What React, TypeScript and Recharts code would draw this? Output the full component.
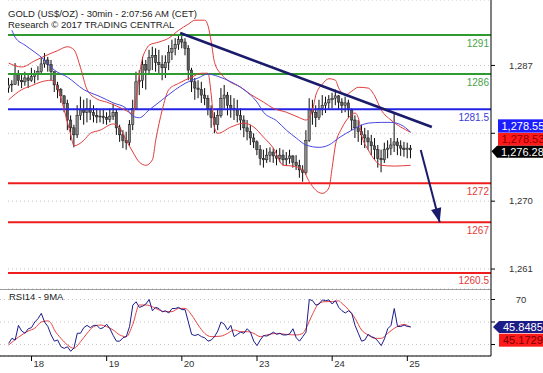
import React from "react";
import {
  ComposedChart,
  Bar,
  Line,
  XAxis,
  YAxis,
  CartesianGrid,
  ReferenceLine,
  ReferenceDot,
} from "recharts";

const FONT = "'Liberation Sans', Arial, sans-serif";

// hourly candles (index 0..123), price in US$/oz
const openPrices = [
  1284.2, 1284.6, 1284.7, 1285.9, 1285.2, 1285.0, 1285.5, 1285.2, 1285.7, 1286.0,
  1286.3, 1287.3, 1287.8, 1287.2, 1286.3, 1284.6, 1284.0, 1283.2, 1282.2, 1280.1,
  1279.1, 1278.2, 1280.7, 1281.4, 1281.1, 1281.6, 1281.1, 1280.7, 1280.5, 1280.6,
  1280.4, 1280.2, 1280.6, 1281.1, 1279.1, 1278.2, 1277.5, 1277.2, 1279.5, 1281.6,
  1285.0, 1285.2, 1287.2, 1286.5, 1288.1, 1288.4, 1287.5, 1287.2, 1286.8, 1287.5,
  1288.8, 1289.3, 1289.8, 1290.4, 1290.1, 1289.3, 1286.5, 1285.0, 1284.2, 1284.0,
  1283.3, 1282.9, 1281.6, 1280.4, 1279.5, 1280.7, 1282.9, 1283.3, 1282.0, 1281.6,
  1281.4, 1280.7, 1280.1, 1279.1, 1278.6, 1277.8, 1277.3, 1276.3, 1275.2, 1275.0,
  1275.6, 1276.0, 1275.5, 1275.2, 1275.6, 1275.0, 1275.2, 1275.5, 1274.7, 1274.3,
  1273.7, 1273.4, 1277.5, 1281.4, 1281.1, 1280.4, 1281.6, 1282.0, 1282.3, 1282.7,
  1282.9, 1283.2, 1282.4, 1282.0, 1282.3, 1281.4, 1280.1, 1279.1, 1278.6, 1278.2,
  1277.8, 1277.3, 1276.8, 1276.3, 1275.2, 1275.0, 1276.3, 1276.5, 1276.9, 1277.3,
  1276.8, 1276.5, 1276.3, 1276.5,
];
const highPrices = [
  1285.5, 1285.2, 1287.4, 1286.5, 1286.0, 1286.3, 1285.9, 1286.8, 1286.5, 1287.0,
  1288.1, 1288.7, 1288.2, 1287.8, 1286.3, 1285.0, 1284.2, 1283.3, 1282.7, 1280.7,
  1279.5, 1282.0, 1283.1, 1282.7, 1282.9, 1282.7, 1282.0, 1281.6, 1281.4, 1281.4,
  1281.1, 1281.6, 1282.2, 1281.4, 1279.5, 1278.8, 1278.6, 1280.1, 1282.7, 1286.3,
  1286.5, 1288.2, 1287.8, 1289.1, 1289.5, 1289.3, 1289.1, 1288.4, 1288.4, 1289.7,
  1290.4, 1290.6, 1291.1, 1291.3, 1290.6, 1289.7, 1286.8, 1285.5, 1285.2, 1285.0,
  1284.2, 1283.3, 1282.0, 1281.1, 1281.6, 1284.2, 1284.6, 1283.7, 1283.3, 1282.9,
  1282.7, 1281.6, 1280.7, 1280.1, 1279.5, 1278.4, 1277.5, 1276.9, 1276.3, 1276.5,
  1276.6, 1276.5, 1276.3, 1276.5, 1276.3, 1276.0, 1276.3, 1275.6, 1275.6, 1275.0,
  1274.3, 1278.8, 1282.9, 1282.7, 1282.0, 1282.7, 1283.3, 1283.1, 1283.3, 1283.6,
  1284.0, 1283.3, 1282.9, 1283.1, 1282.7, 1281.6, 1280.7, 1280.1, 1279.5, 1279.1,
  1278.8, 1278.2, 1277.8, 1276.9, 1276.3, 1277.2, 1277.5, 1277.8, 1281.0, 1277.8,
  1277.5, 1277.3, 1277.2, 1276.9,
];
const lowPrices = [
  1283.6, 1283.7, 1284.6, 1284.5, 1284.2, 1284.5, 1284.2, 1285.0, 1284.8, 1285.2,
  1286.0, 1286.8, 1286.3, 1285.2, 1283.7, 1282.9, 1282.3, 1281.1, 1278.8, 1277.5,
  1276.6, 1277.8, 1280.1, 1279.5, 1279.8, 1280.1, 1279.8, 1279.7, 1279.8, 1279.6,
  1279.5, 1279.8, 1280.1, 1278.2, 1277.3, 1276.5, 1276.3, 1276.8, 1278.8, 1281.4,
  1283.3, 1284.2, 1284.0, 1285.9, 1286.5, 1286.3, 1285.9, 1285.2, 1285.5, 1286.5,
  1287.8, 1288.4, 1289.1, 1289.3, 1288.4, 1285.2, 1283.7, 1282.7, 1282.9, 1282.3,
  1282.0, 1280.7, 1279.1, 1278.4, 1278.8, 1280.4, 1281.6, 1280.7, 1280.4, 1280.1,
  1279.8, 1278.8, 1277.9, 1277.5, 1276.9, 1276.5, 1275.6, 1274.3, 1274.0, 1274.6,
  1274.7, 1274.6, 1274.3, 1274.7, 1274.3, 1274.2, 1274.5, 1274.0, 1273.7, 1272.7,
  1272.2, 1273.1, 1277.3, 1279.5, 1279.2, 1280.1, 1280.7, 1281.0, 1281.4, 1281.6,
  1282.0, 1281.4, 1281.0, 1281.1, 1280.4, 1278.8, 1277.8, 1277.3, 1276.9, 1276.5,
  1276.3, 1275.6, 1275.0, 1274.0, 1273.4, 1274.6, 1275.2, 1275.6, 1276.0, 1275.6,
  1275.5, 1275.4, 1275.2, 1275.2,
];
const closePrices = [
  1284.6, 1284.7, 1285.9, 1285.2, 1285.0, 1285.5, 1285.2, 1285.7, 1286.0, 1286.3,
  1287.3, 1287.8, 1287.2, 1286.3, 1284.6, 1284.0, 1283.2, 1282.2, 1280.1, 1279.1,
  1278.2, 1280.7, 1281.4, 1281.1, 1281.6, 1281.1, 1280.7, 1280.5, 1280.6, 1280.4,
  1280.2, 1280.6, 1281.1, 1279.1, 1278.2, 1277.5, 1277.2, 1279.5, 1281.6, 1285.0,
  1285.2, 1287.2, 1286.5, 1288.1, 1288.4, 1287.5, 1287.2, 1286.8, 1287.5, 1288.8,
  1289.3, 1289.8, 1290.4, 1290.1, 1289.3, 1286.5, 1285.0, 1284.2, 1284.0, 1283.3,
  1282.9, 1281.6, 1280.4, 1279.5, 1280.7, 1282.9, 1283.3, 1282.0, 1281.6, 1281.4,
  1280.7, 1280.1, 1279.1, 1278.6, 1277.8, 1277.3, 1276.3, 1275.2, 1275.0, 1275.6,
  1276.0, 1275.5, 1275.2, 1275.6, 1275.0, 1275.2, 1275.5, 1274.7, 1274.3, 1273.7,
  1273.4, 1277.5, 1281.4, 1281.1, 1280.4, 1281.6, 1282.0, 1282.3, 1282.7, 1282.9,
  1283.2, 1282.4, 1282.0, 1282.3, 1281.4, 1280.1, 1279.1, 1278.6, 1278.2, 1277.8,
  1277.3, 1276.8, 1276.3, 1275.2, 1275.0, 1276.3, 1276.5, 1276.9, 1277.3, 1276.8,
  1276.5, 1276.3, 1276.5, 1276.28,
];

// bollinger-style envelope and moving average, read at selected candles
const upperBandIdx = [0, 4, 8, 11, 15, 18, 20, 22, 24, 27, 30, 33, 36, 38, 39, 40, 41, 42, 43, 46, 49, 52, 55, 57, 60, 61, 62, 63, 65, 67, 71, 74, 78, 81, 85, 89, 91, 93, 94, 96, 98, 100, 101, 103, 105, 107, 110, 112, 114, 117, 120, 123];
const upperBandVals = [1287.4, 1286.9, 1287.7, 1288.3, 1289.0, 1289.5, 1289.1, 1286.8, 1284.0, 1282.8, 1282.4, 1281.9, 1281.3, 1280.9, 1282.9, 1285.9, 1288.1, 1289.1, 1289.7, 1290.1, 1290.6, 1291.6, 1292.4, 1292.9, 1292.9, 1292.2, 1290.1, 1287.5, 1286.0, 1285.2, 1284.3, 1283.4, 1282.4, 1281.6, 1281.1, 1280.4, 1280.1, 1281.4, 1283.3, 1284.7, 1285.4, 1285.2, 1284.2, 1283.3, 1283.8, 1284.3, 1284.2, 1283.2, 1281.4, 1280.1, 1279.2, 1278.53];
const lowerBandIdx = [0, 4, 7, 10, 13, 15, 17, 19, 20, 23, 25, 28, 32, 34, 36, 38, 40, 42, 44, 45, 47, 49, 52, 56, 59, 61, 62, 63, 64, 68, 72, 75, 78, 81, 84, 87, 90, 92, 94, 96, 98, 99, 100, 102, 104, 106, 107, 108, 110, 112, 114, 118, 123];
const lowerBandVals = [1282.7, 1284.0, 1284.5, 1285.0, 1285.2, 1284.2, 1281.4, 1278.2, 1276.8, 1277.5, 1278.4, 1278.8, 1279.6, 1279.1, 1277.5, 1276.0, 1274.7, 1274.3, 1275.0, 1277.5, 1281.4, 1284.0, 1284.8, 1285.6, 1286.1, 1286.1, 1283.3, 1279.1, 1278.4, 1279.2, 1279.7, 1279.2, 1277.9, 1276.5, 1274.3, 1274.2, 1273.7, 1272.2, 1271.1, 1270.7, 1271.4, 1274.0, 1276.9, 1279.1, 1280.4, 1281.0, 1280.4, 1278.2, 1276.3, 1275.0, 1274.3, 1274.2, 1274.3];
const maIdx = [1, 2, 5, 8, 11, 14, 18, 23, 28, 32, 36, 38, 40, 43, 47, 51, 54, 58, 61, 64, 68, 72, 76, 78, 82, 85, 88, 91, 95, 98, 101, 105, 110, 114, 117, 120, 123];
const maVals = [1291.6, 1290.7, 1289.7, 1288.8, 1287.8, 1286.5, 1285.6, 1284.0, 1283.1, 1282.3, 1281.6, 1280.6, 1280.4, 1281.4, 1282.7, 1284.0, 1284.8, 1285.5, 1286.0, 1285.7, 1285.0, 1284.0, 1282.4, 1281.1, 1280.0, 1278.8, 1277.8, 1276.9, 1276.6, 1276.9, 1277.8, 1278.8, 1279.7, 1279.8, 1279.8, 1279.5, 1278.55];

// RSI14 and its 9MA
const rsiVals = [
  31, 35.5, 34, 47, 42, 40, 44, 45, 50, 53,
  57.7, 50, 46, 38.5, 33, 34, 28, 26.6, 28, 24,
  27, 40, 40, 45, 47, 45, 47, 47, 44, 45,
  48, 44, 38, 33, 33, 36, 37, 46, 65, 68,
  63, 64, 66, 70, 60, 63, 62, 59, 60, 58,
  62, 62, 63, 61, 61, 50, 39, 38, 39, 37,
  36, 33, 34, 37, 42, 50, 48, 43, 47, 37,
  39, 41, 40, 44, 41, 33, 29, 34, 38, 37.5,
  39, 41, 39, 40, 38.5, 38.5, 39.5, 44, 36, 33,
  37, 41, 70, 69, 65, 66, 69.6, 69, 69.6, 66,
  69, 63, 60, 58, 60, 57.7, 47, 40, 33, 34,
  39, 37, 36, 33, 29, 35, 44, 47, 62, 46,
  46, 47.3, 46, 45.8485,
];
const rsiMaIdx = [0, 3, 6, 8, 10, 12, 13, 14, 16, 18, 20, 22, 24, 26, 28, 30, 32, 34, 36, 38, 40, 42, 44, 46, 48, 50, 52, 54, 56, 58, 60, 62, 65, 67, 69, 71, 73, 75, 77, 79, 82, 85, 88, 90, 91, 93, 95, 97, 99, 101, 102, 104, 106, 108, 110, 112, 114, 116, 118, 120, 121, 123];
const rsiMaVals = [29.6, 36.5, 42, 44.5, 50, 51, 48.8, 43, 35.5, 29.6, 26.6, 32.5, 39.9, 45.9, 47.3, 45.9, 42.9, 38.5, 37, 48, 65.1, 65.1, 63.6, 60.7, 59.2, 59.2, 62.1, 62.1, 56.2, 47.3, 39.9, 37, 37.5, 39.9, 42.9, 41.4, 41.4, 39.9, 37, 38.5, 39.9, 39, 38.5, 39.9, 44.4, 57, 66.6, 68.1, 68.1, 68.8, 66.5, 61, 53.3, 42.9, 38.5, 35.5, 35.5, 39.9, 44.4, 47.3, 47.9, 45.1729];

const dayTicks = [7, 30, 53, 76, 99, 122];
const dayLabels = ["18", "19", "20", "23", "24", "25"];
const priceTicks = [1261, 1269.7, 1278.4, 1287.1];
const rsiTicks = [30, 50, 70];

const levelValues = [1291, 1286, 1281.5, 1272, 1267, 1260.5];
const levelLabels = ["1291", "1286", "1281.5", "1272", "1267", "1260.5"];
const levelColors = ["#2f9a2f", "#2f9a2f", "#2323e6", "#ee1c1c", "#ee1c1c", "#ee1c1c"];
const levelTextColors = ["#4aa34a", "#4aa34a", "#3a3ad8", "#e23a3a", "#e23a3a", "#e23a3a"];

// resistance line and projected move
const trendStart = { x: 52.5, y: 1291.26 };
const trendEnd = { x: 129.5, y: 1279.2 };
const arrowStart = { x: 126.1, y: 1276.26 };
const arrowTip = { x: 131.9, y: 1267.0 };

const X_MAX = 147.6;
const PRICE_DOMAIN = [1258.44, 1295.49];
const RSI_DOMAIN = [19.8, 79.33];

const lastClose = closePrices[closePrices.length - 1];
const maLast = maVals[maVals.length - 1];
const bandLast = upperBandVals[upperBandVals.length - 1];
const rsiLast = rsiVals[rsiVals.length - 1];
const rsiMaLast = rsiMaVals[rsiMaVals.length - 1];

const priceRows: any[] = closePrices.map((c, i) => ({
  i,
  range: [lowPrices[i], highPrices[i]],
  open: openPrices[i],
  high: highPrices[i],
  low: lowPrices[i],
  close: c,
  upper: null,
  lower: null,
  ma: null,
}));
upperBandIdx.forEach((k, j) => (priceRows[k].upper = upperBandVals[j]));
lowerBandIdx.forEach((k, j) => (priceRows[k].lower = lowerBandVals[j]));
maIdx.forEach((k, j) => (priceRows[k].ma = maVals[j]));

const rsiRows: any[] = rsiVals.map((v, i) => ({ i, rsi: v, rsiMa: null }));
rsiMaIdx.forEach((k, j) => (rsiRows[k].rsiMa = rsiMaVals[j]));

const fmtPrice = (v: number) =>
  v.toLocaleString("en-US", { minimumFractionDigits: 2, maximumFractionDigits: 2 });

const Candle = (props: any) => {
  const { x, y, width, height, payload } = props;
  if (x == null || !payload) return null;
  const { open, close, high, low } = payload;
  const top = Math.min(y, y + height);
  const h = Math.abs(height);
  const toY = (v: number) => (high === low ? top : top + ((high - v) / (high - low)) * h);
  const cx = x + width / 2;
  const bTop = toY(Math.max(open, close));
  const bBot = toY(Math.min(open, close));
  return (
    <g>
      <line x1={cx} x2={cx} y1={top} y2={top + h} stroke="#0c0c0c" strokeWidth={1} />
      <rect
        x={cx - 1.2}
        y={bTop}
        width={2.4}
        height={Math.max(bBot - bTop, 0.8)}
        fill={close >= open ? "#8a8a8a" : "#5c5c5c"}
        stroke="#151515"
        strokeWidth={0.5}
      />
    </g>
  );
};

const LevelLabel = (props: any) => {
  const { viewBox, text, color } = props;
  if (!viewBox) return null;
  return (
    <text
      x={viewBox.x + viewBox.width - 2}
      y={viewBox.y + 11.5}
      textAnchor="end"
      fontSize={10}
      fill={color}
      fontFamily={FONT}
    >
      {text}
    </text>
  );
};

const PriceTick = (props: any) => {
  const { x, y, payload } = props;
  const k = priceTicks.indexOf(payload.value);
  if (Math.abs(payload.value - lastClose) < 4) return null;
  const label = Math.round(priceTicks[k]).toLocaleString("en-US");
  return (
    <text x={x + 24} y={y} dy="0.35em" textAnchor="middle" fontSize={9.5} fill="#333" fontFamily={FONT}>
      {label}
    </text>
  );
};

const RsiTick = (props: any) => {
  const { x, y, payload } = props;
  if (Math.abs(payload.value - rsiLast) < 18) return null;
  return (
    <text x={x + 24} y={y} dy="0.35em" textAnchor="middle" fontSize={9.5} fill="#333" fontFamily={FONT}>
      {payload.value}
    </text>
  );
};

const DayTick = (props: any) => {
  const { x, y, payload } = props;
  const k = dayTicks.indexOf(payload.value);
  return (
    <text x={x + 2} y={y - 3} dy="0.71em" fontSize={9.5} fill="#333" fontFamily={FONT}>
      {dayLabels[k]}
    </text>
  );
};

const ArrowHead = (props: any) => {
  const { cx, cy } = props;
  if (cx == null) return null;
  return (
    <polygon
      points={`${cx},${cy} ${cx + 1.5},${cy - 15} ${cx - 8.6},${cy - 12.3}`}
      fill="#1b1b6b"
    />
  );
};

const PriceBoxes = (props: any) => {
  const { cx, cy } = props;
  if (cx == null) return null;
  return (
    <g fontSize={11} fontFamily={FONT}>
      <rect x={cx + 7} y={cy - 30.5} width={60} height={13.3} fill="#1c1cff" />
      <text x={cx + 10.5} y={cy - 23.8} dy="0.36em" fill="#fff">
        {fmtPrice(maLast)}
      </text>
      <rect x={cx + 7} y={cy - 16.9} width={60} height={12.8} fill="#ff1a1a" />
      <text x={cx + 10.5} y={cy - 10.5} dy="0.36em" fill="#8a0000">
        {fmtPrice(bandLast)}
      </text>
      <polygon
        points={`${cx + 0.5},${cy + 1.3} ${cx + 6},${cy - 4} ${cx + 62},${cy - 4} ${cx + 62},${cy + 7.8} ${cx + 6},${cy + 7.8}`}
        fill="#000"
      />
      <text x={cx + 10} y={cy + 1.9} dy="0.36em" fill="#fff">
        {fmtPrice(lastClose)}
      </text>
    </g>
  );
};

const RsiBoxes = (props: any) => {
  const { cx, cy } = props;
  if (cx == null) return null;
  return (
    <g fontSize={11} fontFamily={FONT}>
      <polygon
        points={`${cx + 2},${cy + 0.3} ${cx + 8},${cy - 5.7} ${cx + 62},${cy - 5.7} ${cx + 62},${cy + 6.3} ${cx + 8},${cy + 6.3}`}
        fill="#1c1c86"
      />
      <text x={cx + 12} y={cy + 0.3} dy="0.36em" fill="#fff">
        {rsiLast.toFixed(4)}
      </text>
      <rect x={cx + 8} y={cy + 7} width={60} height={13} fill="#ff1a1a" />
      <text x={cx + 12} y={cy + 13.5} dy="0.36em" fill="#7a0000">
        {rsiMaLast.toFixed(4)}
      </text>
    </g>
  );
};

export default function App() {
  return (
    <div
      style={{
        position: "absolute",
        left: 0,
        top: 0,
        width: 543,
        height: 373,
        background: "#fff",
        overflow: "hidden",
        fontFamily: FONT,
      }}
    >
      <div style={{ position: "absolute", left: 0, top: 0 }}>
        <ComposedChart
          width={543}
          height={289}
          data={priceRows}
          margin={{ top: 0, right: 0, bottom: 0, left: 8 }}
        >
          <CartesianGrid vertical={false} stroke="#c4c4c4" strokeDasharray="1 3" />
          <XAxis type="number" dataKey="i" domain={[-0.2, X_MAX]} hide allowDataOverflow />
          <YAxis
            orientation="right"
            domain={PRICE_DOMAIN}
            ticks={priceTicks}
            interval={0}
            width={52}
            allowDataOverflow
            axisLine={{ stroke: "#000" }}
            tickLine={{ stroke: "#000" }}
            tickSize={4}
            tick={<PriceTick />}
          />
          {levelValues.map((v, k) => (
            <ReferenceLine
              key={v}
              y={v}
              stroke={levelColors[k]}
              strokeWidth={2}
              label={<LevelLabel text={levelLabels[k]} color={levelTextColors[k]} />}
            />
          ))}
          <Line
            dataKey="upper"
            type="monotone"
            stroke="#e23c3c"
            strokeWidth={1}
            dot={false}
            activeDot={false}
            connectNulls
            isAnimationActive={false}
          />
          <Line
            dataKey="lower"
            type="monotone"
            stroke="#e23c3c"
            strokeWidth={1}
            dot={false}
            activeDot={false}
            connectNulls
            isAnimationActive={false}
          />
          <Line
            dataKey="ma"
            type="monotone"
            stroke="#4848e0"
            strokeWidth={1}
            dot={false}
            activeDot={false}
            connectNulls
            isAnimationActive={false}
          />
          <Bar dataKey="range" barSize={3} shape={<Candle />} isAnimationActive={false} />
          <ReferenceLine segment={[trendStart, trendEnd]} stroke="#1b1b6b" strokeWidth={2.6} />
          <ReferenceLine segment={[arrowStart, arrowTip]} stroke="#1b1b6b" strokeWidth={2} />
          <ReferenceDot x={arrowTip.x} y={arrowTip.y} ifOverflow="visible" shape={ArrowHead} />
          <ReferenceDot x={X_MAX} y={lastClose} ifOverflow="visible" shape={PriceBoxes} />
        </ComposedChart>
      </div>

      <div style={{ position: "absolute", left: 0, top: 289 }}>
        <ComposedChart
          width={543}
          height={84}
          data={rsiRows}
          margin={{ top: 0, right: 0, bottom: 0, left: 0 }}
        >
          <CartesianGrid vertical={false} stroke="#c4c4c4" strokeDasharray="1 3" />
          <XAxis
            type="number"
            dataKey="i"
            domain={[-2.64, X_MAX]}
            ticks={dayTicks}
            interval={0}
            height={17}
            allowDataOverflow
            axisLine={{ stroke: "#000" }}
            tickLine={{ stroke: "#000" }}
            tickSize={5}
            tick={<DayTick />}
          />
          <YAxis
            orientation="right"
            domain={RSI_DOMAIN}
            ticks={rsiTicks}
            interval={0}
            width={52}
            allowDataOverflow
            axisLine={{ stroke: "#000" }}
            tickLine={{ stroke: "#000" }}
            tickSize={4}
            tick={<RsiTick />}
          />
          <ReferenceLine y={RSI_DOMAIN[1]} stroke="#444" strokeWidth={1} />
          <Line
            dataKey="rsiMa"
            type="monotone"
            stroke="#e84444"
            strokeWidth={1}
            dot={false}
            activeDot={false}
            connectNulls
            isAnimationActive={false}
          />
          <Line
            dataKey="rsi"
            type="linear"
            stroke="#1c1c8c"
            strokeWidth={1}
            dot={false}
            activeDot={false}
            isAnimationActive={false}
          />
          <ReferenceDot x={X_MAX} y={rsiLast} ifOverflow="visible" shape={RsiBoxes} />
        </ComposedChart>
      </div>

      <div
        style={{
          position: "absolute",
          left: 8,
          top: 8,
          fontSize: 9.5,
          lineHeight: "11px",
          color: "#222",
          whiteSpace: "nowrap",
        }}
      >
        <div>GOLD (US$/OZ) - 30min - 2:07:56 AM (CET)</div>
        <div>Research © 2017 TRADING CENTRAL</div>
      </div>
      <div
        style={{
          position: "absolute",
          left: 9,
          top: 291,
          fontSize: 9.5,
          lineHeight: "11px",
          color: "#222",
          whiteSpace: "nowrap",
        }}
      >
        RSI14 - 9MA
      </div>
    </div>
  );
}
